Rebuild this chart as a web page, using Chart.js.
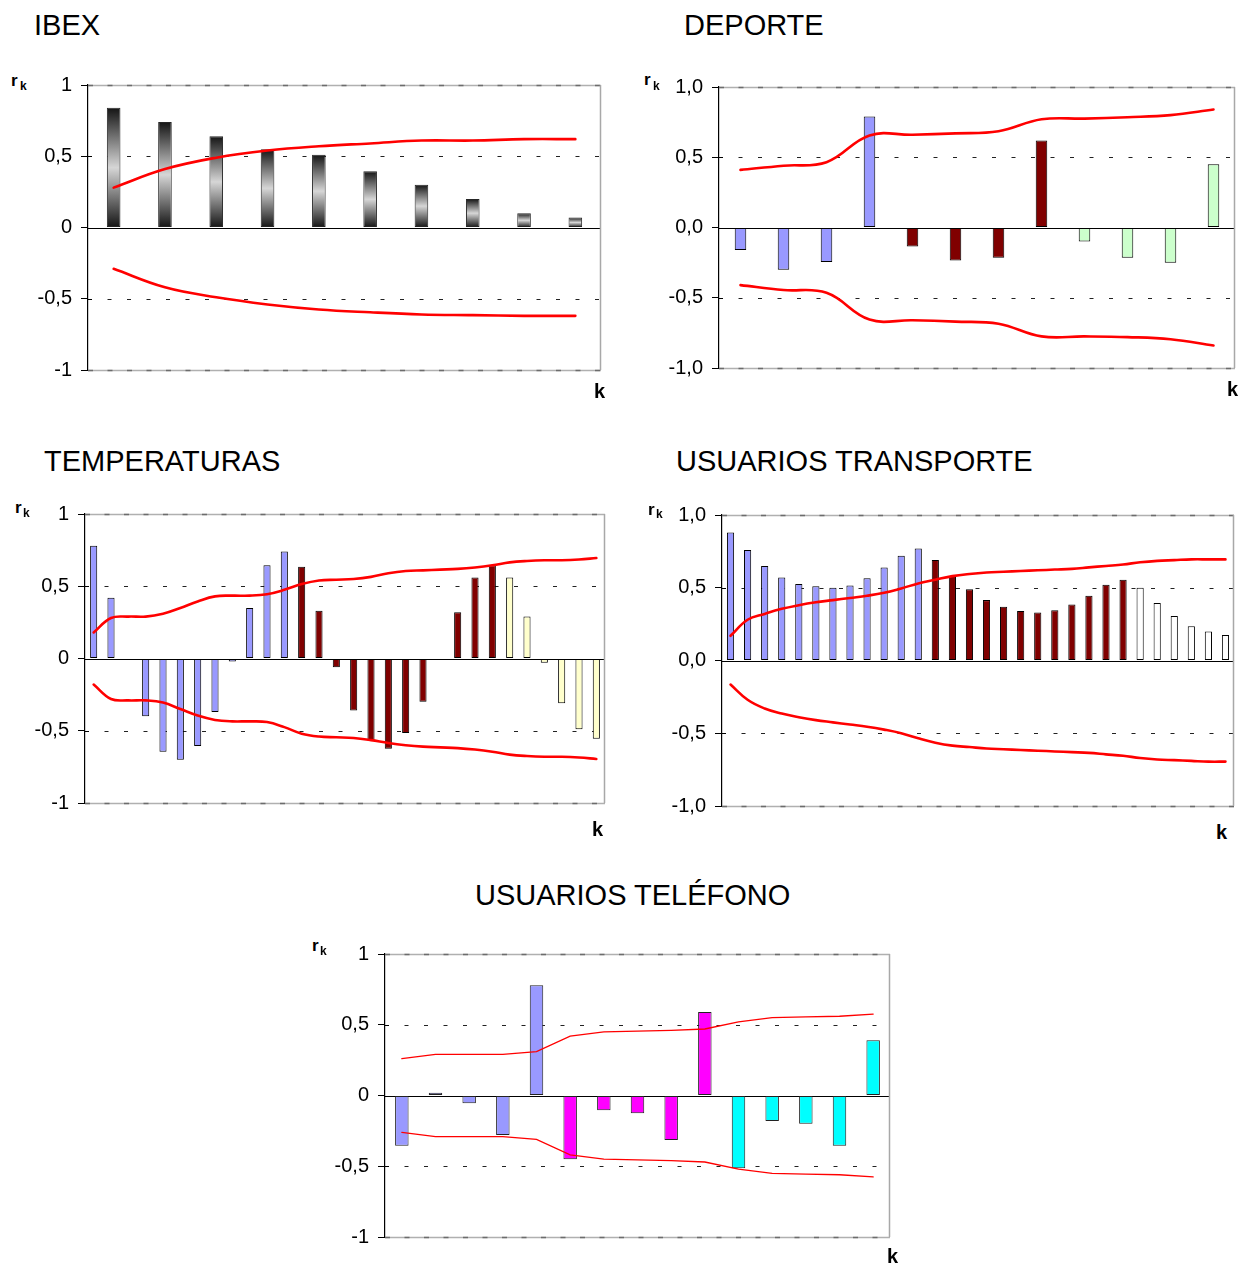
<!DOCTYPE html>
<html><head><meta charset="utf-8">
<script src="https://cdn.jsdelivr.net/npm/chart.js@4.4.1/dist/chart.umd.min.js"></script>
<style>
html,body{margin:0;padding:0;background:#fff;}
body{width:1250px;height:1266px;position:relative;overflow:hidden;font-family:'Liberation Sans',Arial,sans-serif;color:#000;}
canvas{position:absolute;}
.t{position:absolute;font-size:29px;line-height:1;white-space:nowrap;z-index:2;}
.r{position:absolute;font-size:17px;font-weight:bold;line-height:1;z-index:2;}
.s{position:absolute;font-size:12px;font-weight:bold;line-height:1;z-index:2;}
.k{position:absolute;font-size:20px;font-weight:bold;line-height:1;z-index:2;}
</style></head><body>
<canvas id="c1" width="576" height="313" style="left:28px;top:71px"></canvas>
<canvas id="c2" width="579" height="309" style="left:659px;top:73px"></canvas>
<canvas id="c3" width="583" height="317" style="left:25px;top:500px"></canvas>
<canvas id="c4" width="575" height="319" style="left:662px;top:501px"></canvas>
<canvas id="c5" width="568" height="311" style="left:325px;top:940px"></canvas>

<div class="t" style="left:34px;top:11px">IBEX</div>
<div class="t" style="left:684px;top:11px">DEPORTE</div>
<div class="t" style="left:44px;top:447px">TEMPERATURAS</div>
<div class="t" style="left:676px;top:447px">USUARIOS TRANSPORTE</div>
<div class="t" style="left:475px;top:881px">USUARIOS TELÉFONO</div>

<div class="r" style="left:11px;top:72px">r</div><div class="s" style="left:20px;top:80px">k</div>
<div class="r" style="left:644px;top:71px">r</div><div class="s" style="left:653px;top:80px">k</div>
<div class="r" style="left:15px;top:499px">r</div><div class="s" style="left:23px;top:507px">k</div>
<div class="r" style="left:648px;top:501px">r</div><div class="s" style="left:656px;top:508px">k</div>
<div class="r" style="left:312px;top:937px">r</div><div class="s" style="left:320px;top:945px">k</div>

<div class="k" style="left:594px;top:381px">k</div>
<div class="k" style="left:1227px;top:379px">k</div>
<div class="k" style="left:592px;top:819px">k</div>
<div class="k" style="left:1216px;top:822px">k</div>
<div class="k" style="left:887px;top:1246px">k</div>

<script>
// ---------------- data ----------------
const tickLabelsInt = ['-1', '-0,5', '0', '0,5', '1'];
const tickLabelsDec = ['-1,0', '-0,5', '0,0', '0,5', '1,0'];

// IBEX
const ibexLags  = [1, 2, 3, 4, 5, 6, 7, 8, 9, 10];
const ibexR     = [0.84, 0.74, 0.64, 0.55, 0.51, 0.395, 0.30, 0.20, 0.10, 0.07];
const ibexUpper = [0.28, 0.41, 0.49, 0.54, 0.57, 0.59, 0.61, 0.61, 0.62, 0.62];
const ibexLower = [-0.29, -0.42, -0.49, -0.54, -0.575, -0.595, -0.61, -0.615, -0.62, -0.62];

// DEPORTE
const depLags  = [1, 2, 3, 4, 5, 6, 7, 8, 9, 10, 11, 12];
const depR     = [-0.16, -0.30, -0.245, 0.79, -0.135, -0.235, -0.215, 0.62, -0.10, -0.215, -0.25, 0.45];
const depUpper = [0.41, 0.44, 0.465, 0.655, 0.66, 0.67, 0.685, 0.77, 0.775, 0.785, 0.80, 0.84];
const depLower = [-0.41, -0.445, -0.465, -0.655, -0.66, -0.67, -0.685, -0.775, -0.775, -0.78, -0.795, -0.84];

// TEMPERATURAS
const tempLags  = [1, 2, 3, 4, 5, 6, 7, 8, 9, 10, 11, 12, 13, 14, 15, 16, 17, 18, 19, 20, 21, 22, 23, 24, 25, 26, 27, 28, 29, 30];
const tempR     = [0.78, 0.42, -0.005, -0.40, -0.645, -0.70, -0.605, -0.37, -0.02, 0.35, 0.645, 0.74,
                   0.635, 0.33, -0.06, -0.36, -0.57, -0.625, -0.515, -0.30, -0.01, 0.32, 0.56, 0.645,
                   0.56, 0.29, -0.03, -0.31, -0.49, -0.555];
const tempUpper = [0.18, 0.28, 0.29, 0.29, 0.31, 0.35, 0.395, 0.43, 0.435, 0.435, 0.445, 0.475,
                   0.515, 0.54, 0.545, 0.55, 0.565, 0.59, 0.605, 0.61, 0.615, 0.62, 0.63, 0.645,
                   0.665, 0.675, 0.68, 0.68, 0.685, 0.695];
const tempLower = [-0.18, -0.28, -0.29, -0.29, -0.305, -0.35, -0.395, -0.425, -0.435, -0.435, -0.44, -0.475,
                   -0.52, -0.54, -0.545, -0.55, -0.565, -0.585, -0.6, -0.61, -0.615, -0.62, -0.63, -0.645,
                   -0.665, -0.675, -0.68, -0.68, -0.685, -0.695];

// USUARIOS TRANSPORTE
const trLags  = [1, 2, 3, 4, 5, 6, 7, 8, 9, 10, 11, 12, 13, 14, 15, 16, 17, 18, 19, 20, 21, 22, 23, 24, 25, 26, 27, 28, 29, 30];
const trR     = [0.88, 0.76, 0.65, 0.57, 0.525, 0.51, 0.50, 0.515, 0.565, 0.64, 0.72, 0.77,
                 0.69, 0.58, 0.49, 0.415, 0.37, 0.34, 0.33, 0.345, 0.385, 0.445, 0.52, 0.555,
                 0.50, 0.395, 0.305, 0.235, 0.20, 0.175];
const trUpper = [0.17, 0.28, 0.32, 0.355, 0.38, 0.40, 0.415, 0.43, 0.445, 0.465, 0.495, 0.53,
                 0.555, 0.58, 0.595, 0.605, 0.61, 0.615, 0.62, 0.625, 0.63, 0.64, 0.65, 0.66,
                 0.675, 0.685, 0.69, 0.695, 0.695, 0.695];
const trLower = [-0.165, -0.27, -0.33, -0.365, -0.39, -0.41, -0.425, -0.44, -0.455, -0.475, -0.50, -0.535,
                 -0.565, -0.585, -0.595, -0.605, -0.61, -0.615, -0.62, -0.625, -0.63, -0.635, -0.645, -0.655,
                 -0.67, -0.68, -0.685, -0.69, -0.695, -0.695];

// USUARIOS TELÉFONO
const telLags  = [1, 2, 3, 4, 5, 6, 7, 8, 9, 10, 11, 12, 13, 14, 15];
const telR     = [-0.355, 0.02, -0.055, -0.28, 0.78, -0.45, -0.105, -0.125, -0.315, 0.59, -0.515, -0.18, -0.20, -0.355, 0.39];
const telUpper = [0.26, 0.29, 0.29, 0.29, 0.31, 0.42, 0.45, 0.455, 0.46, 0.47, 0.52, 0.55, 0.555, 0.56, 0.575];
const telLower = [-0.26, -0.29, -0.29, -0.29, -0.31, -0.42, -0.45, -0.455, -0.46, -0.47, -0.52, -0.55, -0.555, -0.56, -0.575];

// ---------------- styling ----------------
Chart.defaults.font.family = "'Liberation Sans', Arial, sans-serif";
Chart.defaults.color = '#000';

function groupColors(n, palette) {
  const size = n / palette.length;
  const out = [];
  for (let i = 0; i < n; i++) out.push(palette[Math.floor(i / size)]);
  return out;
}

function ibexGradient(ctx) {
  const chart = ctx.chart;
  if (!chart.chartArea || ctx.type !== 'data' || !chart.scales.y) return '#888888';
  const y = chart.scales.y;
  const v = ctx.parsed ? ctx.parsed.y : ctx.raw;
  const y1 = y.getPixelForValue(v), y0 = y.getPixelForValue(0);
  if (Math.abs(y1 - y0) < 1) return '#888888';
  const g = chart.ctx.createLinearGradient(0, y1, 0, y0);
  g.addColorStop(0, '#141414');
  g.addColorStop(0.5, '#d6d6d6');
  g.addColorStop(1, '#141414');
  return g;
}

const frame = {
  id: 'frame',
  beforeDatasetsDraw(chart) {
    const { ctx, chartArea: a, scales: { y } } = chart;
    ctx.save();
    const hline = (v, color, width, dash) => {
      const py = Math.round(y.getPixelForValue(v)) + 0.5;
      ctx.beginPath();
      ctx.setLineDash(dash);
      ctx.strokeStyle = color;
      ctx.lineWidth = width;
      ctx.moveTo(a.left, py);
      ctx.lineTo(a.right, py);
      ctx.stroke();
    };
    hline(1, '#b0b0b0', 1.5, []);
    hline(-1, '#b0b0b0', 1.5, []);
    hline(1, '#6c6c6c', 1.5, [5, 14.5]);
    hline(-1, '#6c6c6c', 1.5, [5, 14.5]);
    hline(0.5, '#222', 1, [4, 15.5]);
    hline(-0.5, '#222', 1, [4, 15.5]);
    hline(0, '#000', 1.2, []);
    // right border
    ctx.setLineDash([]);
    ctx.strokeStyle = '#a8a8a8';
    ctx.lineWidth = 1.5;
    ctx.beginPath();
    ctx.moveTo(Math.round(a.right) - 0.5, a.top);
    ctx.lineTo(Math.round(a.right) - 0.5, a.bottom);
    ctx.stroke();
    // small tick extensions to the right of the axis
    ctx.strokeStyle = '#000';
    ctx.lineWidth = 1;
    [-0.5, 0.5].forEach(v => {
      const py = Math.round(y.getPixelForValue(v)) + 0.5;
      ctx.beginPath();
      ctx.moveTo(a.left, py);
      ctx.lineTo(a.left + 4, py);
      ctx.stroke();
    });
    ctx.restore();
  }
};

function build(id, labels, r, up, lo, st) {
  return new Chart(document.getElementById(id), {
    type: 'bar',
    data: {
      labels: labels,
      datasets: [
        { type: 'line', data: up, borderColor: '#ff0000', borderWidth: st.lw, tension: st.tension,
          pointRadius: 0, fill: false, order: 0, borderCapStyle: 'round' },
        { type: 'line', data: lo, borderColor: '#ff0000', borderWidth: st.lw, tension: st.tension,
          pointRadius: 0, fill: false, order: 0, borderCapStyle: 'round' },
        { type: 'bar', data: r, backgroundColor: st.bg, borderColor: st.bc, borderWidth: 1,
          borderSkipped: false, barPercentage: st.bp, categoryPercentage: 1, order: 1 }
      ]
    },
    options: {
      responsive: false,
      animation: false,
      events: [],
      layout: { padding: { top: 14, bottom: 14, left: 0, right: 3 } },
      plugins: { legend: { display: false }, tooltip: { enabled: false } },
      scales: {
        x: { display: false },
        y: {
          min: -1, max: 1,
          afterFit(s) { s.width = 60; s.paddingTop = 0; s.paddingBottom = 0; },
          ticks: { stepSize: 0.5, padding: 9, font: { size: 20 }, color: '#000',
                   callback: (v, i) => st.ticks[i] },
          grid: { display: true, drawOnChartArea: false, drawTicks: true, tickLength: 7,
                  tickColor: '#000', tickWidth: 1, color: '#000' },
          border: { display: true, color: '#000', width: 1.2 }
        }
      }
    },
    plugins: [frame]
  });
}

build('c1', ibexLags, ibexR, ibexUpper, ibexLower,
  { lw: 2.6, tension: 0.4, bg: ibexGradient, bc: '#262626', bp: 0.265, ticks: tickLabelsInt });
build('c2', depLags, depR, depUpper, depLower,
  { lw: 2.6, tension: 0.4, bg: groupColors(depLags.length, ['#9999FF', '#800000', '#CCFFCC']), bc: '#000', bp: 0.268, ticks: tickLabelsDec });
build('c3', tempLags, tempR, tempUpper, tempLower,
  { lw: 2.6, tension: 0.4, bg: groupColors(12, ['#9999FF']).concat(groupColors(12, ['#800000']), groupColors(6, ['#FFFFCC'])), bc: '#000', bp: 0.41, ticks: tickLabelsInt });
build('c4', trLags, trR, trUpper, trLower,
  { lw: 2.6, tension: 0.4, bg: groupColors(12, ['#9999FF']).concat(groupColors(12, ['#800000']), groupColors(6, ['#FFFFFF'])), bc: '#000', bp: 0.42, ticks: tickLabelsDec });
build('c5', telLags, telR, telUpper, telLower,
  { lw: 1.3, tension: 0, bg: groupColors(telLags.length, ['#9999FF', '#FF00FF', '#00FFFF']), bc: '#222', bp: 0.40, ticks: tickLabelsInt });
</script>
</body></html>
